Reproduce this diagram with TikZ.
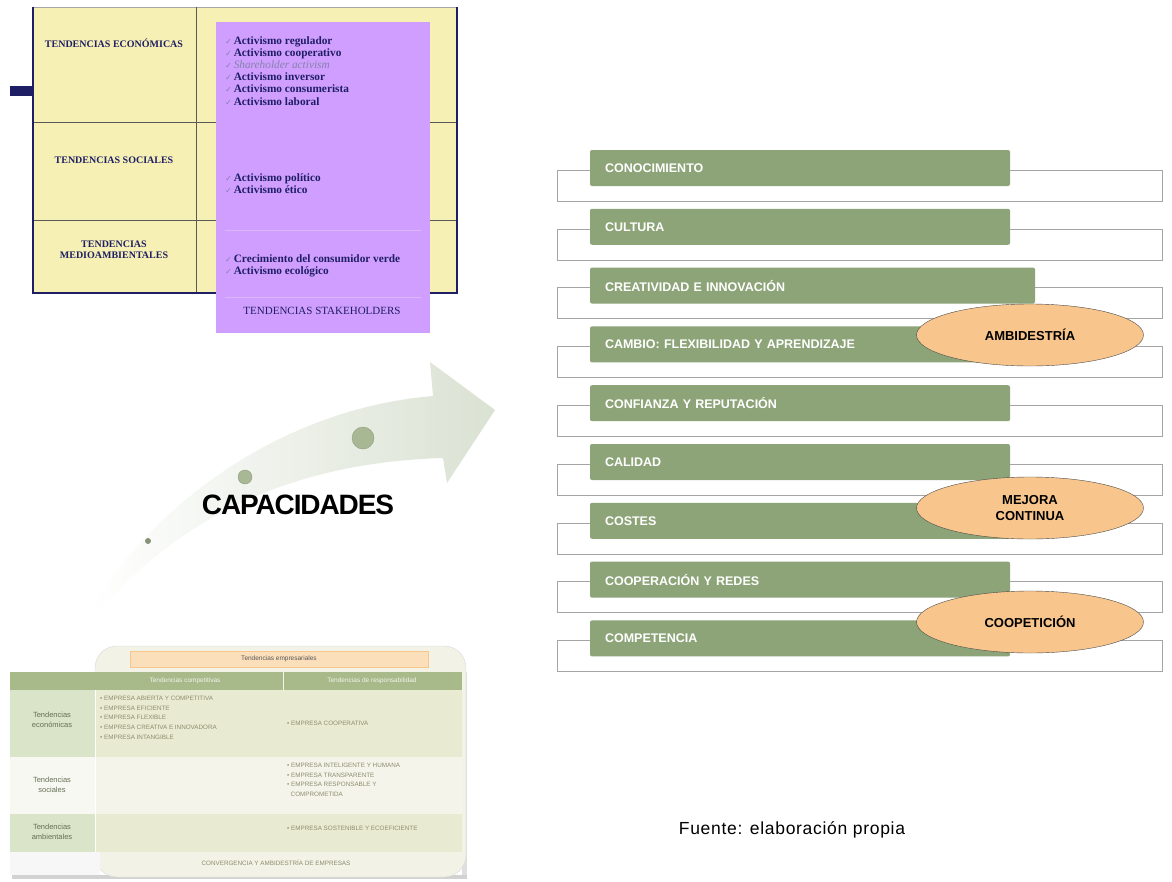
\documentclass[tikz,border=0pt]{standalone}
\usepackage{fontspec}
\setmainfont{Liberation Sans}
\newfontfamily\tablafont{Liberation Serif}
\newfontfamily\simbfont{DejaVu Sans}
\newfontfamily\capfont[LetterSpace=-4]{Liberation Sans}
\newfontfamily\fuentefont[LetterSpace=4]{Liberation Sans}
\usepackage{xcolor}
\usepackage{tikz}
\usetikzlibrary{shapes,arrows,positioning}

\definecolor{verdebarra}{RGB}{141,164,120}
\definecolor{bordemarco}{RGB}{165,165,165}
\definecolor{naranja}{RGB}{248,198,140}
\definecolor{amarillo}{RGB}{246,240,180}
\definecolor{morado}{RGB}{208,158,255}
\definecolor{marino}{RGB}{30,30,100}
\definecolor{flecha}{RGB}{218,226,211}
\definecolor{punto}{RGB}{168,184,148}
\definecolor{verdeband}{RGB}{168,186,138}
\definecolor{beigeuno}{RGB}{233,234,210}
\definecolor{beigedos}{RGB}{244,244,234}
\definecolor{verdecel}{RGB}{218,228,200}
\definecolor{crema}{RGB}{242,242,230}
\definecolor{textogris}{RGB}{140,140,110}
\definecolor{naranjaclaro}{RGB}{251,222,186}

\newcommand{\palomita}{{\simbfont\mdseries\fontsize{8}{8}\selectfont\color{marino!55}✓}\,}

\begin{document}
\begin{tikzpicture}[x=1pt, y=-1pt, node distance=58.8pt, >=latex']
    \tikzstyle{barra} = [rectangle, fill=verdebarra, rounded corners=2pt, text=white,
        text width=390pt, inner xsep=15pt, minimum height=36pt, align=left,
        font=\bfseries\fontsize{12.5}{14}\selectfont]
    \tikzstyle{marco} = [rectangle, draw=bordemarco, fill=white, minimum width=605pt,
        minimum height=31pt, inner sep=0pt]
    \tikzstyle{elipse} = [ellipse, draw=black!70, fill=naranja, minimum width=227pt,
        minimum height=62pt, align=center, font=\bfseries\fontsize{13}{16}\selectfont]
    \tikzstyle{lista} = [anchor=north west, inner sep=0pt, align=left, text=marino,
        font=\tablafont\bfseries\fontsize{11.3}{12.2}\selectfont]
    \tikzstyle{tendencia} = [align=center, text=marino, font=\tablafont\bfseries\fontsize{10}{11}\selectfont]
    \tikzstyle{pequena} = [anchor=north west, inner sep=0pt, align=left, text=textogris,
        font=\fontsize{6.3}{9.6}\selectfont]
    \tikzstyle{rotulo} = [align=center, text=verdeband!60!black, font=\fontsize{7.5}{10}\selectfont]

    \useasboundingbox (0,0) rectangle (1172,881);
    \fill[white] (0,0) rectangle (1172,881);

    % tabla de tendencias
    \fill[amarillo] (33,7) rectangle (457,293);
    \draw[gray!70] (33,7) -- (457,7);
    \draw[gray!70!black] (196,7) -- (196,293);
    \draw[gray!70!black] (33,122) -- (457,122);
    \draw[gray!70!black] (33,220) -- (457,220);
    \draw[marino, line width=1.6pt] (33,7) -- (33,293) -- (457,293) -- (457,7);
    \fill[marino] (10,86) rectangle (33,96);
    \node[tendencia] (teco) at (114,43) {TENDENCIAS ECONÓMICAS};
    \node[tendencia] (tsoc) at (114,160) {TENDENCIAS SOCIALES};
    \node[tendencia] (tmed) at (114,250) {TENDENCIAS\\MEDIOAMBIENTALES};

    \fill[morado] (216,22) rectangle (430,333);
    \draw[morado!75!white] (225,230) -- (421,230);
    \draw[morado!75!white] (225,297) -- (421,297);
    \node[lista] (leco) at (225,36) {\palomita Activismo regulador\\
        \palomita Activismo cooperativo\\
        \palomita{\mdseries\itshape\color{marino!55} Shareholder activism}\\
        \palomita Activismo inversor\\
        \palomita Activismo consumerista\\
        \palomita Activismo laboral};
    \node[lista] (lsoc) at (225,173) {\palomita Activismo político\\
        \palomita Activismo ético};
    \node[lista] (lmed) at (225,254) {\palomita Crecimiento del consumidor verde\\
        \palomita Activismo ecológico};
    \node[text=marino, font=\tablafont\fontsize{11}{12}\selectfont] (stake) at (322,311) {TENDENCIAS STAKEHOLDERS};

    % flecha
    \shade[left color=white, right color=flecha]
        (90,610) .. controls (160,495) and (290,408) .. (433,396) -- (430,362)
        -- (495,410) -- (447,483) -- (443,458)
        .. controls (310,462) and (190,505) .. (96,614) -- cycle;
    \fill[punto, draw=punto!80!black, line width=0.3pt] (363,438) circle[radius=11];
    \fill[punto, draw=punto!80!black, line width=0.3pt] (245,477) circle[radius=7];
    \fill[punto!80!black] (148,541) circle[radius=3];
    \node[font=\capfont\bfseries\fontsize{28}{30}\selectfont] (capac) at (298,505) {CAPACIDADES};

    % tabla empresarial
    \fill[gray!25] (462,672) rectangle (467,879);
    \fill[gray!35] (12,875) rectangle (467,879);
    \draw[gray!30, fill=crema, rounded corners=22pt] (95,646) rectangle (466,877);
    \node[rectangle, draw=naranja, fill=naranjaclaro, minimum width=298pt, minimum height=16pt,
        inner sep=0pt, text=black!65, font=\fontsize{6.5}{8}\selectfont] (temp) at (279,659) {Tendencias empresariales};
    \fill[verdeband] (10,672) rectangle (462,690);
    \draw[white!85!verdeband] (283,672) -- (283,690);
    \node[text=white!85!verdeband, font=\fontsize{6.5}{8}\selectfont] (hcomp) at (185,681) {Tendencias competitivas};
    \node[text=white!85!verdeband, font=\fontsize{6.5}{8}\selectfont] (hresp) at (372,681) {Tendencias de responsabilidad};
    \fill[verdecel] (10,690) rectangle (95,757);
    \fill[beigeuno] (95,690) rectangle (462,757);
    \fill[beigedos!60!white] (10,757) rectangle (95,814);
    \fill[beigedos] (95,757) rectangle (462,814);
    \fill[verdecel] (10,814) rectangle (95,852);
    \fill[beigeuno] (95,814) rectangle (462,852);
    \fill[gray!6] (10,852) rectangle (100,875);
    \draw[white] (95,690) -- (95,852);
    \node[rotulo] (reco) at (52,720) {Tendencias\\económicas};
    \node[rotulo] (rsoc) at (52,785) {Tendencias\\sociales};
    \node[rotulo] (ramb) at (52,832) {Tendencias\\ambientales};
    \node[pequena] (ieco) at (100,696) {• EMPRESA ABIERTA Y COMPETITIVA\\
        • EMPRESA EFICIENTE\\
        • EMPRESA FLEXIBLE\\
        • EMPRESA CREATIVA E INNOVADORA\\
        • EMPRESA INTANGIBLE};
    \node[pequena] (icoop) at (287,721) {• EMPRESA COOPERATIVA};
    \node[pequena] (isoc) at (287,763) {• EMPRESA INTELIGENTE Y HUMANA\\
        • EMPRESA TRANSPARENTE\\
        • EMPRESA RESPONSABLE Y\\
        \ \ COMPROMETIDA};
    \node[pequena] (iamb) at (287,826) {• EMPRESA SOSTENIBLE Y ECOEFICIENTE};
    \node[text=textogris, font=\fontsize{6.3}{8}\selectfont] (conv) at (276,863) {CONVERGENCIA Y AMBIDESTRÍA DE EMPRESAS};

    % capacidades
    \node[marco] (m1) at (860,185.5) {};
    \node[marco, below of=m1] (m2) {};
    \node[marco, below of=m2] (m3) {};
    \node[marco, below of=m3] (m4) {};
    \node[marco, below of=m4] (m5) {};
    \node[marco, below of=m5] (m6) {};
    \node[marco, below of=m6] (m7) {};
    \node[marco, below of=m7] (m8) {};
    \node[marco, below of=m8] (m9) {};

    \node[barra] (b1) at ([shift={(-60,-17.5)}]m1) {CONOCIMIENTO};
    \node[barra] (b2) at ([shift={(-60,-17.5)}]m2) {CULTURA};
    \node[barra, text width=415pt] (b3) at ([shift={(-47.5,-17.5)}]m3) {CREATIVIDAD E INNOVACIÓN};
    \node[barra] (b4) at ([shift={(-60,-17.5)}]m4) {CAMBIO: FLEXIBILIDAD Y APRENDIZAJE};
    \node[barra] (b5) at ([shift={(-60,-17.5)}]m5) {CONFIANZA Y REPUTACIÓN};
    \node[barra] (b6) at ([shift={(-60,-17.5)}]m6) {CALIDAD};
    \node[barra] (b7) at ([shift={(-60,-17.5)}]m7) {COSTES};
    \node[barra] (b8) at ([shift={(-60,-17.5)}]m8) {COOPERACIÓN Y REDES};
    \node[barra] (b9) at ([shift={(-60,-17.5)}]m9) {COMPETENCIA};

    \node[elipse] (ambi) at (1030,335) {AMBIDESTRÍA};
    \node[elipse] (mejora) at (1030,508) {MEJORA\\CONTINUA};
    \node[elipse] (coop) at (1030,622) {COOPETICIÓN};

    \node[font=\fuentefont\fontsize{17.5}{19}\selectfont] (fuente) at (792,830) {Fuente: elaboración propia};
\end{tikzpicture}
\end{document}
